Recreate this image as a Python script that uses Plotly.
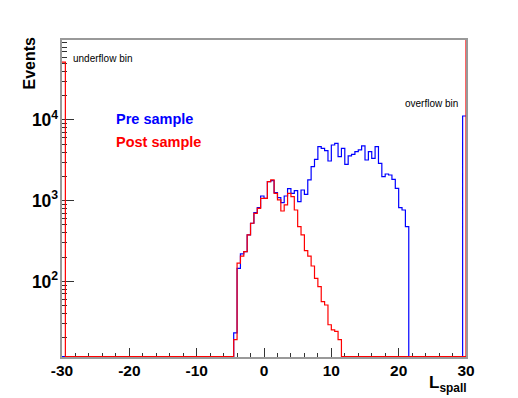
import plotly.graph_objects as go

# ---------------- data ----------------
BIN_LO = -30.0
BIN_W = 0.5
N_BINS = 120

# filled region of the "Pre sample" histogram (bins start at -4.5)
pre_start = -4.5
pre_counts = [23, 145, 219, 234, 376, 525, 711, 820, 1143, 1070,
              1722, 1770, 1259, 1091, 946, 1143, 1409, 1234, 1331, 972,
              1357, 1199, 1806, 2640, 3258, 4672, 4455, 4165, 3103, 4900,
              5140, 3513, 4455, 2825, 3581, 3756, 4052, 4249, 4766, 3192,
              4052, 3350, 4672, 2904, 1986, 2142, 2081, 1841, 1422, 820,
              767, 477]
pre_underflow = 0
pre_overflow = 11200

# filled region of the "Post sample" histogram (bins start at -4.5)
post_start = -4.5
post_counts = [19, 168, 206, 234, 376, 525, 697, 804, 1070, 1070,
               1722, 1806, 1234, 1021, 745, 885, 1234, 1122, 767, 477,
               376, 240, 206, 155, 109, 86, 56, 51, 29, 25,
               24, 19]
post_underflow = 52000
post_overflow_offscale = 1e6   # off the top of the scale, drawn at the x=30 edge

legend_labels = ["Pre sample", "Post sample"]
legend_colors = ["#0000ff", "#ff0000"]

x_tick_vals = [-30, -20, -10, 0, 10, 20, 30]
x_tick_text = ["-30", "-20", "-10", "0", "10", "20", "30"]

Y_LOG_RANGE = [1.063, 4.991]
FLOOR = 10 ** 1.068  # empty bins drawn at the bottom of the log axis


def full_hist(counts, start, under, over):
    vals = [0.0] * N_BINS
    vals[0] = under
    vals[-1] = over
    i0 = round((start - BIN_LO) / BIN_W)
    for k, c in enumerate(counts):
        vals[i0 + k] = c
    return [max(v, FLOOR) for v in vals]


def step_xy(vals):
    xs = [BIN_LO + i * BIN_W for i in range(N_BINS)] + [BIN_LO + N_BINS * BIN_W]
    ys = list(vals) + [vals[-1]]
    return xs, ys


pre_vals = full_hist(pre_counts, pre_start, pre_underflow, pre_overflow)
post_vals = full_hist(post_counts, post_start, post_underflow, 0)

px_, py_ = step_xy(pre_vals)
qx_, qy_ = step_xy(post_vals)
qx_.append(BIN_LO + N_BINS * BIN_W)
qy_.append(post_overflow_offscale)

fig = go.Figure()
fig.add_trace(go.Scatter(x=px_, y=py_, mode="lines", line=dict(color=legend_colors[0], width=1.2, shape="hv"),
                         name=legend_labels[0], hoverinfo="skip"))
fig.add_trace(go.Scatter(x=qx_, y=qy_, mode="lines", line=dict(color=legend_colors[1], width=1.2, shape="hv"),
                         name=legend_labels[1], hoverinfo="skip"))

# page has an 8px body margin; plot area should sit at window x 62..466, y 40..357
PAGE = 8
L, R, T, B = 62, 466, 40, 357


def xp(x):
    return (x - L) / (R - L)


def yp(y):
    return (B - y) / (B - T)


font_b = dict(family="Liberation Sans", weight="bold", color="black")

fig.update_layout(
    width=518 - PAGE, height=398 - PAGE,
    margin=dict(l=L - PAGE, r=518 - R, t=T - PAGE, b=398 - B, autoexpand=False),
    plot_bgcolor="white", paper_bgcolor="white",
    showlegend=False,
)
fig.update_xaxes(
    range=[-30, 30], tickmode="array", tickvals=x_tick_vals, ticktext=x_tick_text,
    ticks="inside", ticklen=9, tickcolor="#333333", tickwidth=1, ticklabelstandoff=-2,
    minor=dict(ticks="inside", ticklen=4, tick0=-30, dtick=2, tickcolor="#333333", tickwidth=1, showgrid=False),
    showline=True, linecolor="#999999", linewidth=2, mirror=True,
    showgrid=False, zeroline=False, layer="below traces",
    tickfont=dict(size=15.5, **font_b),
)
fig.update_yaxes(
    type="log", range=Y_LOG_RANGE, tickmode="linear", tick0=0, dtick=1, exponentformat="power",
    ticks="inside", ticklen=12, tickcolor="#333333", tickwidth=1, ticklabelstandoff=-1,
    minor=dict(ticks="inside", ticklen=5, dtick="D1", tickcolor="#333333", tickwidth=1, showgrid=False),
    showline=True, linecolor="#999999", linewidth=2, mirror=True,
    showgrid=False, zeroline=False, layer="below traces",
    tickfont=dict(size=14, **font_b),
)

fig.add_annotation(text="Events", textangle=-90, xref="paper", yref="paper",
                   x=xp(29), y=yp(63.5), xanchor="center", yanchor="middle", showarrow=False,
                   font=dict(size=16, **font_b))
fig.add_annotation(text="L<sub>spall</sub>", xref="paper", yref="paper",
                   x=xp(469), y=yp(371), xanchor="right", yanchor="top", showarrow=False,
                   font=dict(size=17, **font_b))
fig.add_annotation(text=legend_labels[0], xref="paper", yref="paper",
                   x=xp(114), y=yp(119), xanchor="left", yanchor="middle", showarrow=False,
                   font=dict(family="Liberation Sans", weight="bold", size=14.5, color=legend_colors[0]))
fig.add_annotation(text=legend_labels[1], xref="paper", yref="paper",
                   x=xp(114), y=yp(142), xanchor="left", yanchor="middle", showarrow=False,
                   font=dict(family="Liberation Sans", weight="bold", size=14.5, color=legend_colors[1]))
fig.add_annotation(text="underflow bin", xref="paper", yref="paper",
                   x=xp(71), y=yp(59), xanchor="left", yanchor="middle", showarrow=False,
                   font=dict(family="Liberation Sans", size=10, color="black"))
fig.add_annotation(text="overflow bin", xref="paper", yref="paper",
                   x=xp(460), y=yp(103), xanchor="right", yanchor="middle", showarrow=False,
                   font=dict(family="Liberation Sans", size=10, color="black"))

fig.write_html("out.html")
